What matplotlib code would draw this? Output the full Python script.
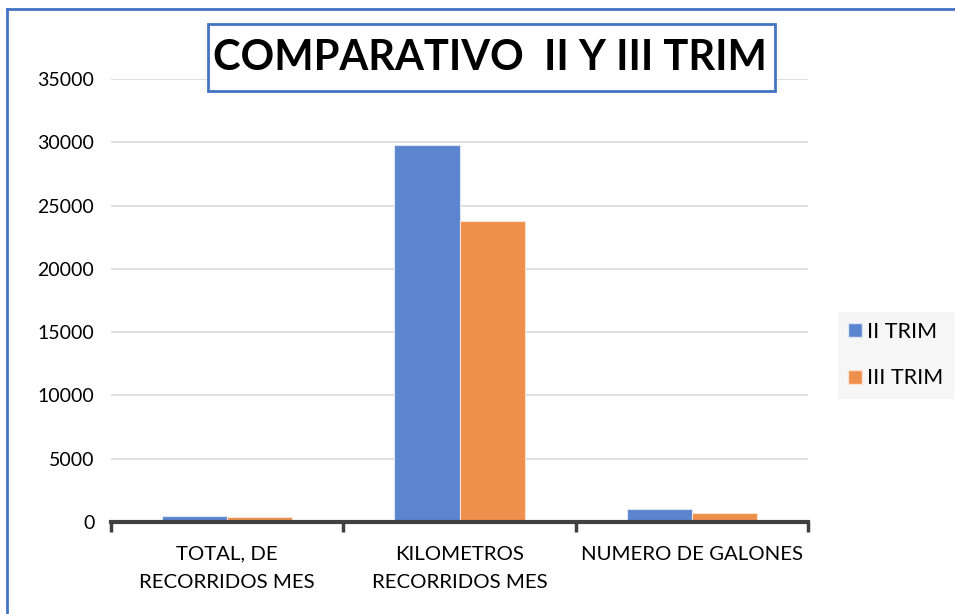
import matplotlib
matplotlib.use("Agg")
import matplotlib.pyplot as plt
from matplotlib.patches import Rectangle, Patch
import numpy as np

categories = ["TOTAL, DE\nRECORRIDOS MES", "KILOMETROS\nRECORRIDOS MES", "NUMERO DE GALONES"]
series_names = ["II TRIM", "III TRIM"]
ii_trim = [510, 29800, 1010]
iii_trim = [410, 23800, 750]
yticks = [0, 5000, 10000, 15000, 20000, 25000, 30000, 35000]
title = "COMPARATIVO  II Y III TRIM"

blue = "#5B85CF"
orange = "#EF8F4C"
border = "#4472C4"
font = "Lato"

fig = plt.figure(figsize=(9.55, 6.14), dpi=100)
ax = fig.add_axes([111/955, 1-522/614, (808-111)/955, (522-79)/614])

x = np.arange(len(categories))
w = 0.28
ax.bar(x - w/2, ii_trim, w, color=blue, edgecolor="#DDE6F5", linewidth=0.8, zorder=3)
ax.bar(x + w/2, iii_trim, w, color=orange, edgecolor="#FBE3D3", linewidth=0.8, zorder=3)

ax.set_xlim(-0.5, len(categories) - 0.5)
ax.set_ylim(0, 35000)
ax.set_yticks(yticks)
ax.set_yticklabels([str(v) for v in yticks], fontsize=14, family=font)
ax.tick_params(axis="y", length=0, pad=12)
ax.yaxis.grid(True, color="#D9D9D9", linewidth=1.2, zorder=0)
ax.set_axisbelow(True)

ax.set_xticks(x)
ax.set_xticklabels(categories, fontsize=14.7, family=font, linespacing=1.8)
ax.tick_params(axis="x", which="major", length=0, pad=17)
ax.set_xticks(np.arange(-0.5, len(categories)), minor=True)
ax.tick_params(axis="x", which="minor", length=7, width=2.5, color="#404040", direction="out")

for s in ["top", "right", "left"]:
    ax.spines[s].set_visible(False)
ax.spines["bottom"].set_color("#404040")
ax.spines["bottom"].set_linewidth(3)
ax.spines["bottom"].set_zorder(4)

# Title box
fig.add_artist(Rectangle((208/955, 1-91/614), (775-208)/955, 67/614, transform=fig.transFigure,
                         facecolor="white", edgecolor=border, linewidth=2, zorder=5))
fig.text((208+775)/2/955 - 2/955, 1-58/614, title, ha="center", va="center",
         fontsize=30, fontweight="bold", family=font, zorder=6)

# Legend
handles = [Patch(facecolor=blue, edgecolor="#DDE6F5"), Patch(facecolor=orange, edgecolor="#FBE3D3")]
leg = fig.legend(handles, series_names, loc="center left",
                 bbox_to_anchor=(838/955, 1-355/614), frameon=True,
                 prop={"family": font, "size": 15.5}, handlelength=0.65, handleheight=0.65,
                 handletextpad=0.25, labelspacing=1.25, borderpad=0.45, borderaxespad=0,
                 fancybox=False)
leg.get_frame().set_facecolor("#F4F4F4")
leg.get_frame().set_edgecolor("#F4F4F4")

# Chart border (left and top)
fig.add_artist(plt.Line2D([7/955, 7/955], [0, 1-9/614], color=border, linewidth=2, transform=fig.transFigure))
fig.add_artist(plt.Line2D([7/955, 1], [1-9/614, 1-9/614], color=border, linewidth=2, transform=fig.transFigure))

fig.savefig("out.png", dpi=100)
